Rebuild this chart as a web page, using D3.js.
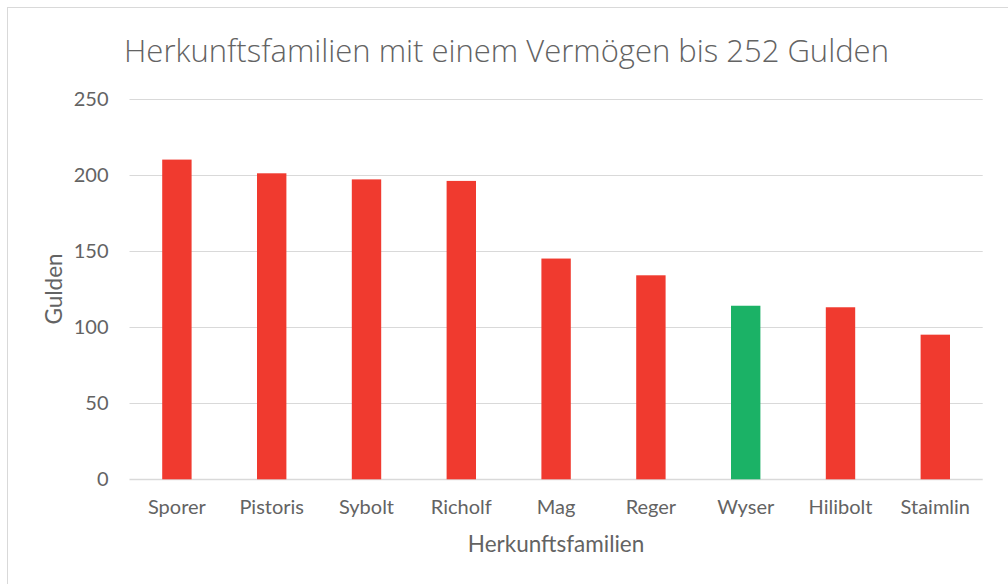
<!DOCTYPE html>
<html>
<head>
<meta charset="utf-8">
<script src="https://cdn.jsdelivr.net/npm/d3@7"></script>
<style>
  body { margin: 0; background: #fff; }
  svg { display: block; font-family: Lato, 'Open Sans', sans-serif; }
</style>
</head>
<body>
<svg width="1008" height="584"></svg>
<script>
const families = ['Sporer', 'Pistoris', 'Sybolt', 'Richolf', 'Mag', 'Reger', 'Wyser', 'Hilibolt', 'Staimlin']
const gulden = [210, 201, 197, 196, 145, 134, 114, 113, 95]
const highlighted = ['Wyser']
const yTicks = [0, 50, 100, 150, 200, 250]

const textColor = '#636363'
const gridColor = '#d9d9d9'

const svg = d3.select('svg')

// chart frame (only top and left edge visible in the crop)
svg.append('rect')
  .attr('x', 7.5).attr('y', 7.5)
  .attr('width', 1100).attr('height', 700)
  .attr('fill', 'none')
  .attr('stroke', '#d9d9d9')

const plotLeft = 129.5
const plotRight = 982.7
const plotTop = 98.7
const plotBottom = 479.3

const x = d3.scaleBand()
  .domain(families)
  .range([plotLeft, plotRight])
  .paddingInner(0.69)
  .paddingOuter(0.345)

const y = d3.scaleLinear()
  .domain([0, 250])
  .range([plotBottom, plotTop])

// gridlines
svg.append('g')
  .selectAll('line')
  .data(yTicks)
  .enter()
  .append('line')
  .attr('x1', plotLeft)
  .attr('x2', plotRight)
  .attr('y1', d => Math.round(y(d)) + 0.5)
  .attr('y2', d => Math.round(y(d)) + 0.5)
  .attr('stroke', gridColor)
  .attr('stroke-width', d => d === 0 ? 1.5 : 1.2)

// bars
svg.append('g')
  .selectAll('rect')
  .data(families)
  .enter()
  .append('rect')
  .attr('x', d => x(d))
  .attr('width', x.bandwidth())
  .attr('y', (d, i) => y(gulden[i]))
  .attr('height', (d, i) => y(0) - y(gulden[i]))
  .attr('fill', d => highlighted.includes(d) ? '#1bb266' : '#f03a2f')

// y axis labels
const yAxis = d3.axisLeft(y).tickValues(yTicks).tickSize(0).tickPadding(21)
svg.append('g')
  .attr('transform', `translate(${plotLeft},0)`)
  .call(yAxis)
  .call(g => g.select('.domain').remove())
  .call(g => g.selectAll('text')
    .attr('fill', textColor)
    .style('font-size', '20px')
    .style('font-family', 'Lato, sans-serif'))

// x axis labels
const xAxis = d3.axisBottom(x).tickSize(0).tickPadding(21)
svg.append('g')
  .attr('transform', `translate(0,${plotBottom})`)
  .call(xAxis)
  .call(g => g.select('.domain').remove())
  .call(g => g.selectAll('text')
    .attr('fill', textColor)
    .style('font-size', '20px')
    .style('font-family', 'Lato, sans-serif'))

// title
svg.append('text')
  .attr('x', 506.5)
  .attr('y', 62)
  .attr('text-anchor', 'middle')
  .attr('fill', textColor)
  .style('font-family', "'Open Sans', sans-serif")
  .style('font-weight', 300)
  .style('font-size', '31px')
  .text('Herkunftsfamilien mit einem Vermögen bis 252 Gulden')

// axis titles
svg.append('text')
  .attr('x', (plotLeft + plotRight) / 2)
  .attr('y', 552)
  .attr('text-anchor', 'middle')
  .attr('fill', textColor)
  .style('font-size', '22.5px')
  .text('Herkunftsfamilien')

svg.append('text')
  .attr('transform', `translate(62,${(plotTop + plotBottom) / 2}) rotate(-90)`)
  .attr('text-anchor', 'middle')
  .attr('fill', textColor)
  .style('font-size', '22.5px')
  .text('Gulden')
</script>
</body>
</html>
